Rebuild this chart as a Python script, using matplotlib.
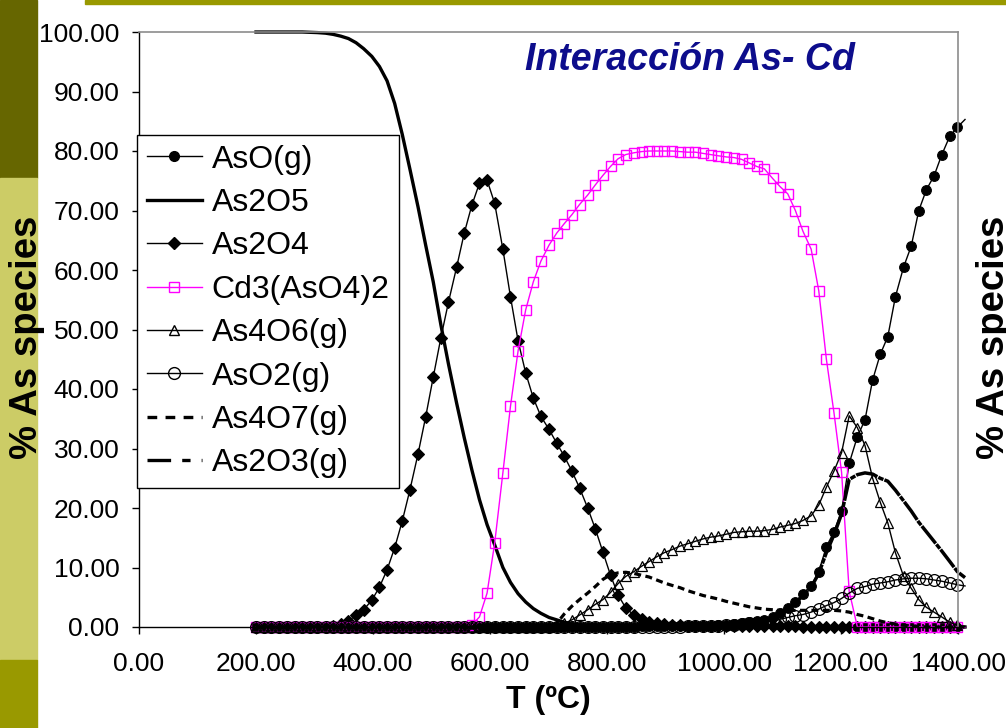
import numpy as np
import matplotlib
matplotlib.use("Agg")
import matplotlib.pyplot as plt
from matplotlib.lines import Line2D
from matplotlib.patches import Rectangle

plt.rcParams['font.family'] = ['Liberation Sans', 'DejaVu Sans']
plt.rcParams['lines.scale_dashes'] = False

# ---------------- data ----------------
T = [200, 213, 226, 240, 253, 266, 279, 292, 305, 319, 332, 345, 358, 371, 384, 398,
     411, 424, 437, 450, 463, 477, 490, 503, 516, 529, 543, 556, 569, 582, 595, 608,
     622, 635, 648, 661, 674, 687, 701, 714, 727, 740, 753, 767, 780, 793, 806, 819,
     832, 846, 859, 872, 885, 898, 911, 925, 938, 951, 964, 977, 990, 1004, 1017, 1030,
     1043, 1056, 1069, 1083, 1096, 1109, 1122, 1135, 1149, 1162, 1175, 1188, 1201, 1214,
     1228, 1241, 1254, 1267, 1280, 1293, 1307, 1320, 1333, 1346, 1359, 1372, 1386, 1399, 1412]

AsO_g = [0.0] * 48 + [0.05, 0.05, 0.1, 0.1, 0.1, 0.1, 0.1, 0.1, 0.15, 0.15, 0.2, 0.25,
         0.3, 0.4, 0.5, 0.65, 0.8, 1.0, 1.2, 1.7, 2.3, 3.2, 4.2, 5.6, 6.9, 9.3, 13.5, 16.0,
         19.5, 27.5, 32.0, 34.8, 41.5, 45.8, 48.8, 55.5, 60.5, 64.0, 70.0, 73.5, 75.8, 79.3,
         82.5, 84.0, 85.3]

As2O5 = [100.0, 100.0, 100.0, 100.0, 100.0, 100.0, 100.0, 99.95, 99.9, 99.8, 99.6, 99.3,
         98.9, 98.2, 97.2, 95.9, 94.2, 91.8, 88.0, 82.8, 77.0, 70.6, 64.2, 58.0, 50.8, 44.2,
         37.6, 31.8, 26.4, 21.4, 17.2, 13.8, 10.0, 7.5, 5.6, 4.2, 3.1, 2.3, 1.6, 1.2, 0.8,
         0.5, 0.3, 0.2, 0.1] + [0.0] * 48

As2O4 = [0.0] * 9 + [0.05, 0.2, 0.5, 1.0, 2.0, 2.9, 4.5, 6.7, 9.6, 13.3, 17.8, 23.0, 29.1,
         35.3, 42.0, 48.6, 54.6, 60.5, 66.2, 70.9, 74.6, 75.1, 71.2, 63.5, 55.5, 48.1, 42.7,
         38.5, 35.4, 33.2, 30.9, 28.7, 26.2, 23.4, 20.0, 16.5, 12.6, 8.7, 5.4, 3.2, 2.0, 1.3,
         0.9, 0.6, 0.45, 0.35, 0.3, 0.25, 0.2, 0.2, 0.15, 0.15, 0.1] + [0.1] * 9 + [0.05] * 22

Cd3AsO4_2 = [0.0] * 28 + [0.3, 1.7, 5.7, 14.1, 25.9, 37.1, 46.4, 53.3, 58.0, 61.5, 64.2,
             66.2, 67.8, 69.3, 71.0, 72.6, 74.3, 75.9, 77.4, 78.7, 79.4, 79.7, 79.9, 80.0,
             80.0, 80.0, 80.0, 79.9, 79.8, 79.8, 79.6, 79.4, 79.2, 79.0, 78.9, 78.6, 78.0,
             77.4, 77.0, 75.4, 74.0, 72.8, 70.0, 66.5, 63.5, 56.5, 45.0, 36.0, 26.0, 6.0] + [0.0] * 15

As4O6_g = [0.0] * 39 + [0.2, 0.6, 1.2, 2.0, 2.9, 3.8, 4.6, 5.8, 7.3, 8.5, 9.3, 10.2, 11.0,
           11.8, 12.5, 13.0, 13.6, 14.0, 14.4, 14.8, 15.1, 15.3, 15.6, 15.9, 16.0, 16.1,
           16.1, 16.2, 16.4, 16.8, 17.1, 17.4, 17.9, 18.7, 20.5, 23.5, 26.2, 29.3, 35.5,
           33.5, 30.5, 25.0, 21.0, 17.5, 12.5, 8.5, 6.5, 4.6, 3.3, 2.5, 1.7, 0.8, 0.3, 0.1]

AsO2_g = [0.0] * 56 + [0.1, 0.1, 0.15, 0.2, 0.2, 0.3, 0.4, 0.5, 0.6, 0.75, 0.9, 1.0, 1.3,
          1.6, 1.9, 2.1, 2.5, 3.0, 3.6, 4.1, 4.8, 5.7, 6.5, 6.8, 7.2, 7.4, 7.6, 7.9, 8.1,
          8.2, 8.2, 8.1, 7.9, 7.7, 7.4, 7.1, 6.9]

As4O7_g = [0.0] * 39 + [0.6, 2.2, 3.5, 4.6, 5.7, 6.8, 8.0, 8.8, 9.1, 9.2, 9.0, 8.7, 8.4,
           7.9, 7.4, 7.0, 6.6, 6.1, 5.7, 5.3, 5.0, 4.7, 4.3, 4.0, 3.7, 3.4, 3.2, 3.0, 2.9,
           2.8, 2.8, 2.8, 2.8, 2.8, 2.8, 2.8, 2.8, 2.7, 2.5, 2.1, 1.8, 1.4, 1.0, 0.7, 0.5,
           0.3, 0.2, 0.1] + [0.0] * 6

As2O3_g = [0.0] * 60 + [0.2, 0.3, 0.4, 0.55, 0.7, 0.9, 1.1, 1.6, 2.2, 3.0, 4.0, 5.3, 6.7,
           9.0, 12.5, 15.5, 19.0, 24.8, 25.6, 25.9, 25.7, 25.0, 24.5, 23.0, 21.2, 19.5,
           17.6, 16.0, 14.4, 12.8, 11.0, 9.3, 8.3]

labels = ["AsO(g)", "As2O5", "As2O4", "Cd3(AsO4)2", "As4O6(g)", "AsO2(g)", "As4O7(g)", "As2O3(g)"]
x_ticks = [0, 200, 400, 600, 800, 1000, 1200, 1400]
y_ticks = [0, 10, 20, 30, 40, 50, 60, 70, 80, 90, 100]

series = [AsO_g, As2O5, As2O4, Cd3AsO4_2, As4O6_g, AsO2_g, As4O7_g, As2O3_g]
for s in series:
    assert len(s) == len(T), (len(s), len(T))

# ---------------- figure ----------------
W, H = 1006, 728
fig = plt.figure(figsize=(W / 100, H / 100), dpi=100)

# slide decorations
fig.patches.append(Rectangle((0, 1 - 178 / H), 37 / W, 178 / H, transform=fig.transFigure,
                             color="#666600", zorder=0))
fig.patches.append(Rectangle((0, 68 / H), 37 / W, 482 / H, transform=fig.transFigure,
                             color="#CCCC66", zorder=0))
fig.patches.append(Rectangle((0, 0), 37 / W, 68 / H, transform=fig.transFigure,
                             color="#999900", zorder=0))
fig.patches.append(Rectangle((85 / W, 1 - 4 / H), 1 - 85 / W, 4 / H, transform=fig.transFigure,
                             color="#999900", zorder=0))

ax = fig.add_axes([139 / W, 101 / H, 819 / W, 595 / H])
ax.set_facecolor("white")

mk = slice(0, len(T) - 1)
styles = [
    dict(color="k", lw=1.0, marker="o", ms=7, mfc="k", mec="k", mew=0.8),
    dict(color="k", lw=2.4),
    dict(color="k", lw=1.0, marker="D", ms=6.5, mfc="k", mec="k", mew=0.8),
    dict(color="#FF00FF", lw=1.0, marker="s", ms=6.5, mfc="none", mec="#FF00FF", mew=1.0),
    dict(color="k", lw=1.0, marker="^", ms=7.5, mfc="none", mec="k", mew=0.9),
    dict(color="k", lw=1.0, marker="o", ms=8.5, mfc="none", mec="k", mew=0.9),
    dict(color="k", lw=2.3, dashes=(5, 3.2)),
    dict(color="k", lw=2.5, dashes=(16, 0.8, 4, 0.8)),
]
for s, st in zip(series, styles):
    kw = dict(st)
    if "marker" in kw:
        kw["markevery"] = mk
    ax.plot(T, s, clip_on=False, **kw)

ax.set_xlim(0, 1400)
ax.set_ylim(0, 100)
ax.set_xticks(x_ticks)
ax.set_xticklabels([f"{v:.2f}" for v in x_ticks])
ax.set_yticks(y_ticks)
ax.set_yticklabels([f"{v:.2f}" for v in y_ticks])
ax.tick_params(direction="out", length=5, width=1, labelsize=19, colors="k")
ax.tick_params(axis="y", pad=9)
ax.tick_params(axis="x", pad=13)
for side in ("top", "right"):
    ax.spines[side].set_color("#8c8c8c")
    ax.spines[side].set_linewidth(1.2)
for side in ("left", "bottom"):
    ax.spines[side].set_color("black")
    ax.spines[side].set_linewidth(1.0)

# legend with proxy handles
leg_styles = [
    dict(color="k", lw=1.0, marker="o", ms=7, mfc="k", mec="k"),
    dict(color="k", lw=2.4),
    dict(color="k", lw=1.0, marker="D", ms=6.5, mfc="k", mec="k"),
    dict(color="#FF00FF", lw=1.0, marker="s", ms=6.5, mfc="none", mec="#FF00FF"),
    dict(color="k", lw=1.0, marker="^", ms=7.5, mfc="none", mec="k"),
    dict(color="k", lw=1.0, marker="o", ms=8.5, mfc="none", mec="k"),
    dict(color="k", lw=2.4, dashes=(7, 6)),
    dict(color="k", lw=2.4, dashes=(17, 8, 6, 8)),
]
handles = [Line2D([], [], **st) for st in leg_styles]
leg = fig.legend(handles, labels, loc="upper left",
                 bbox_to_anchor=(137 / W, 1 - 135 / H), bbox_transform=fig.transFigure,
                 fontsize=23, frameon=True, fancybox=False, framealpha=1,
                 edgecolor="black", borderpad=0.3, labelspacing=0.42,
                 handlelength=1.72, handletextpad=0.32, borderaxespad=0)
leg.get_frame().set_linewidth(1.0)

# texts
fig.text(690 / W, 1 - 60 / H, "Interacción As- Cd", fontsize=27, fontweight="bold",
         fontstyle="italic", color="#0d0d8c", ha="center", va="center")
fig.text(548 / W, 1 - 700 / H, "T (ºC)", fontsize=23, fontweight="bold",
         ha="center", va="center")
fig.text(27 / W, 1 - 337 / H, "% As species", fontsize=27.5, fontweight="bold",
         rotation=90, ha="center", va="center")
fig.text(994 / W, 1 - 337 / H, "% As species", fontsize=27.5, fontweight="bold",
         rotation=90, ha="center", va="center")

fig.savefig("out.png", dpi=100)
